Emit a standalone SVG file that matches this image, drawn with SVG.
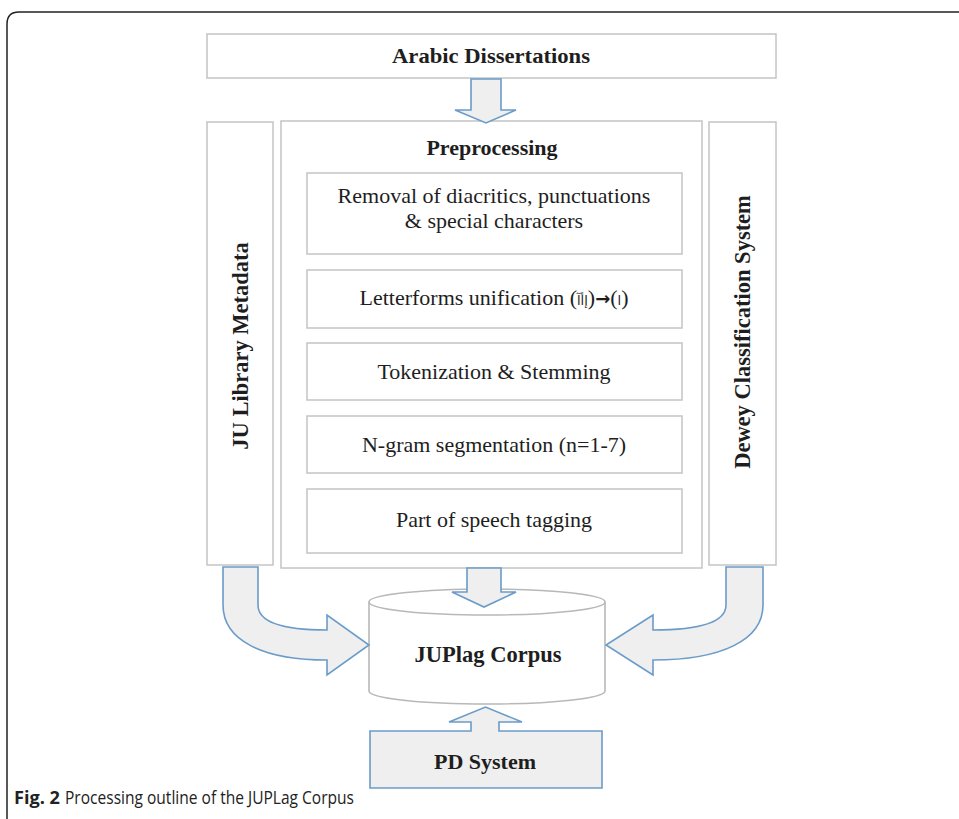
<svg xmlns="http://www.w3.org/2000/svg" width="959" height="819" viewBox="0 0 959 819">
<defs>
<style>
.box{fill:#ffffff;stroke:#c4c4c4;stroke-width:1.5}
.arw{fill:#efefef;stroke:#6b9cc9;stroke-width:1.6;stroke-linejoin:miter}
.cyl{fill:#ffffff;stroke:#b8b8b8;stroke-width:1.6}
.t{font-family:"Liberation Serif","Times New Roman",serif;fill:#1e1e1e;text-anchor:middle;font-size:22px}
.tb{font-family:"Liberation Serif","Times New Roman",serif;fill:#1e1e1e;text-anchor:middle;font-weight:bold}
.cap{font-family:"Open Sans","Liberation Sans",sans-serif;fill:#222;font-size:18px}
</style>
</defs>
<rect width="959" height="819" fill="#ffffff"/>
<path d="M7,819 V24 Q7,12 19,12 H959" fill="none" stroke="#222" stroke-width="1.5"/>

<g id="arabic-dissertations">
<rect class="box" x="207" y="34" width="569" height="44"/>
<text class="tb" x="491" y="63" font-size="21" textLength="198" lengthAdjust="spacingAndGlyphs">Arabic Dissertations</text>
</g>

<g id="ju-library-metadata">
<rect class="box" x="207" y="122" width="66" height="443"/>
<text class="tb" transform="translate(248,346) rotate(-90)" font-size="22.5">JU Library Metadata</text>
</g>

<g id="preprocessing">
<rect class="box" x="281" y="121" width="421" height="447"/>
<text class="tb" x="492" y="155" font-size="22">Preprocessing</text>
</g>

<g id="removal">
<rect class="box" x="307" y="173" width="375" height="81"/>
<text class="t" x="494" y="203">Removal of diacritics, punctuations</text>
<text class="t" x="494" y="228">&amp; special characters</text>
</g>

<g id="letterforms">
<rect class="box" x="307" y="270" width="375" height="58"/>
<text class="t" x="494" y="305">Letterforms unification (<tspan font-family="DejaVu Sans" font-size="13">إأآ</tspan>)<tspan font-family="DejaVu Sans" font-weight="bold" font-size="18">→</tspan>(<tspan font-family="DejaVu Sans" font-size="13">ا</tspan>)</text>
</g>

<g id="tokenization">
<rect class="box" x="307" y="343" width="375" height="57"/>
<text class="t" x="494" y="379">Tokenization &amp; Stemming</text>
</g>

<g id="ngram">
<rect class="box" x="307" y="416" width="375" height="57"/>
<text class="t" x="494" y="452">N-gram segmentation (n=1-7)</text>
</g>

<g id="pos">
<rect class="box" x="307" y="489" width="375" height="64"/>
<text class="t" x="494" y="527">Part of speech tagging</text>
</g>

<g id="dewey">
<rect class="box" x="709" y="122" width="67" height="443"/>
<text class="tb" transform="translate(750,332) rotate(-90)" font-size="22.5">Dewey Classification  System</text>
</g>

<g id="juplag-corpus">
<path class="cyl" d="M369,602 V691 A118,13 0 0 0 605,691 V602"/>
<ellipse class="cyl" cx="487" cy="602" rx="118" ry="13"/>
<text class="tb" x="488" y="662" font-size="22.5">JUPlag Corpus</text>
</g>

<g id="pd-system">
<path class="arw" d="M370,731 H471 V722 H449 L485.5,707 L522,722 H499 V731 H602 V788 H370 Z"/>
<text class="tb" x="485" y="769" font-size="22">PD System</text>
</g>

<g id="connectors">
<path class="arw" d="M471,79 H501 V110 H516 L486,123 L455,110 H471 Z"/>
<path class="arw" d="M467,568 H501 V592 H516 L484,607 L452,592 H467 Z"/>
<path class="arw" d="M223,567 H258 V605 C258,622 282,630 327,630 V615 L369,645 L327,675 V660 C262,660 223,640 223,605 Z"/>
<path class="arw" d="M763,567 H726 V605 C726,622 702,630 653,630 V615 L606,645 L653,675 V660 C722,660 763,640 763,605 Z"/>
</g>

<text class="cap" x="14" y="804" font-weight="bold" textLength="46" lengthAdjust="spacingAndGlyphs">Fig. 2</text>
<text class="cap" x="65" y="804" textLength="289" lengthAdjust="spacingAndGlyphs">Processing outline of the JUPLag Corpus</text>
</svg>
